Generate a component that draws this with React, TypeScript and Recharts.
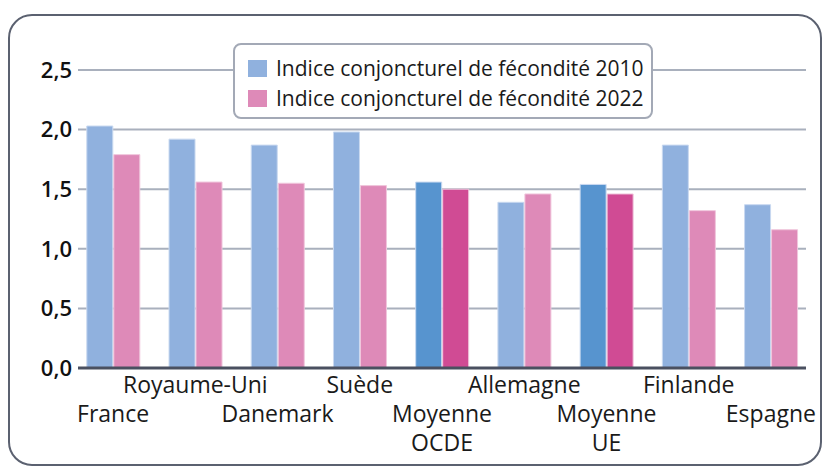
import { BarChart, Bar, XAxis, YAxis, CartesianGrid, Cell } from "recharts";

const pays = ["France", "Royaume-Uni", "Danemark", "Suède", "Moyenne OCDE", "Allemagne", "Moyenne UE", "Finlande", "Espagne"];
const icf2010 = [2.03, 1.92, 1.87, 1.98, 1.56, 1.39, 1.54, 1.87, 1.37];
const icf2022 = [1.79, 1.56, 1.55, 1.53, 1.5, 1.46, 1.46, 1.32, 1.16];
const moyennes = ["Moyenne OCDE", "Moyenne UE"];
const yTicks = [0, 0.5, 1, 1.5, 2, 2.5];
const legendLabels = ["Indice conjoncturel de fécondité 2010", "Indice conjoncturel de fécondité 2022"];

const data = pays.map((p, i) => ({ pays: p, v2010: icf2010[i], v2022: icf2022[i] }));

const FONT = "'Open Sans', sans-serif";
const BLUE = "#90b1de";
const PINK = "#de8ab8";
const BLUE_DARK = "#5794cf";
const PINK_DARK = "#d04b94";

// labels alternate between two rows, the averages wrap onto a second line
function XTick({ x, y, payload, index }: any) {
  const parts = moyennes.includes(payload.value) ? String(payload.value).split(" ") : [payload.value];
  const baseY = index % 2 === 0 ? y + 46 : y + 17;
  return (
    <text x={x} y={baseY} textAnchor="middle" fontFamily={FONT} fontSize={23} fill="#1a1a1a">
      {parts.map((t: string, k: number) => (
        <tspan key={k} x={x} dy={k === 0 ? 0 : 29}>
          {t}
        </tspan>
      ))}
    </text>
  );
}

function LegendBox() {
  const colors = [BLUE, PINK];
  return (
    <div
      style={{
        position: "absolute",
        left: 233,
        top: 43,
        width: 420,
        height: 76,
        boxSizing: "border-box",
        border: "2px solid #a3a9b6",
        borderRadius: 8,
        background: "#fff",
        padding: "8px 0 0 13px",
        fontFamily: FONT,
        fontSize: 21,
        color: "#1a1a1a",
      }}
    >
      {legendLabels.map((label, i) => (
        <div key={label} style={{ display: "flex", alignItems: "center", height: 30 }}>
          <span style={{ display: "inline-block", width: 19, height: 17, background: colors[i], marginRight: 9 }} />
          <span style={{ lineHeight: "30px" }}>{label}</span>
        </div>
      ))}
    </div>
  );
}

export default function App() {
  return (
    <div style={{ position: "absolute", left: 0, top: 0, width: 823, height: 470, overflow: "hidden", background: "#fff" }}>
      <div
        style={{
          position: "absolute",
          left: 8,
          top: 14,
          width: 814,
          height: 452,
          boxSizing: "border-box",
          border: "2.5px solid #5b6170",
          borderRadius: 24,
        }}
      />
      <div style={{ position: "absolute", left: 0, top: 0 }}>
        <BarChart
          width={823}
          height={470}
          data={data}
          margin={{ top: 70, right: 17, bottom: 0, left: 8 }}
          barCategoryGap="18%"
          barGap={1}
        >
          <CartesianGrid vertical={false} stroke="#a9b0bd" strokeWidth={2} />
          <XAxis
            dataKey="pays"
            interval={0}
            height={102}
            padding={{ left: -6, right: -6 }}
            axisLine={{ stroke: "#4a5060", strokeWidth: 3 }}
            tickLine={false}
            tick={<XTick />}
          />
          <YAxis
            width={70}
            domain={[0, 2.5]}
            ticks={yTicks}
            axisLine={false}
            tickLine={false}
            tick={{ fontFamily: FONT, fontSize: 22, fontWeight: 600, fill: "#111" }}
            dx={2}
            tickFormatter={(v: number) => v.toFixed(1).replace(".", ",")}
          />
          <Bar dataKey="v2010" name={legendLabels[0]} fill={BLUE} stroke="#c9d9f0" strokeWidth={1} isAnimationActive={false}>
            {data.map((d) => (
              <Cell key={d.pays} fill={moyennes.includes(d.pays) ? BLUE_DARK : BLUE} />
            ))}
          </Bar>
          <Bar dataKey="v2022" name={legendLabels[1]} fill={PINK} stroke="#f0c6dc" strokeWidth={1} isAnimationActive={false}>
            {data.map((d) => (
              <Cell key={d.pays} fill={moyennes.includes(d.pays) ? PINK_DARK : PINK} />
            ))}
          </Bar>
        </BarChart>
      </div>
      <LegendBox />
    </div>
  );
}
